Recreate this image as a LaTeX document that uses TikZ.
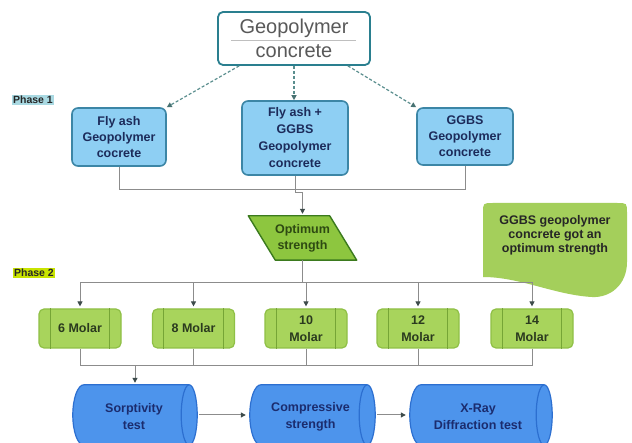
\documentclass[tikz,border=0pt]{standalone}
\usepackage{fontspec}
\setmainfont{Liberation Sans}
\usetikzlibrary{arrows.meta,calc,backgrounds}
\definecolor{teal1}{HTML}{2A7F8F}
\definecolor{bluefill}{HTML}{8ECFF3}
\definecolor{blueedge}{HTML}{3C86A6}
\definecolor{bluetext}{HTML}{1C2B5A}
\definecolor{dashc}{HTML}{5A8E8E}
\definecolor{lineg}{HTML}{8C8C8C}
\definecolor{arrowg}{HTML}{3D4B4B}
\definecolor{optfill}{HTML}{8DC63F}
\definecolor{optedge}{HTML}{3B7A1E}
\definecolor{opttext}{HTML}{2E4A12}
\definecolor{callfill}{HTML}{A4CF5B}
\definecolor{ph1}{HTML}{A9D9E2}
\definecolor{ph2}{HTML}{C9E400}
\definecolor{molfill}{HTML}{A8D45C}
\definecolor{moledge}{HTML}{8FC046}
\definecolor{molline}{HTML}{76A536}
\definecolor{moltext}{HTML}{2B3A1F}
\definecolor{cylfill}{HTML}{4D94EC}
\definecolor{cyledge}{HTML}{2C6FD0}
\definecolor{cyltext}{HTML}{1B2C6E}
\newcommand{\cylbody}[1]{%
  \path[draw=cyledge, fill=cylfill, line width=1.2pt]
    ($(#1.north west)+(11,0)$) -- ($(#1.north east)+(-8,0)$)
    .. controls ($(#1.north east)+(-3.58,0)$) and ($(#1.east)+(0,-16.57)$) .. (#1.east)
    .. controls ($(#1.east)+(0,16.57)$) and ($(#1.south east)+(-3.58,0)$) .. ($(#1.south east)+(-8,0)$)
    -- ($(#1.south west)+(11,0)$)
    .. controls ($(#1.south west)+(4.92,0)$) and ($(#1.west)+(0,16.57)$) .. (#1.west)
    .. controls ($(#1.west)+(0,-16.57)$) and ($(#1.north west)+(4.92,0)$) .. ($(#1.north west)+(11,0)$)
    -- cycle;
  \path[draw=cyledge, line width=1.2pt]
    ($(#1.north east)+(-8,0)$)
    .. controls ($(#1.north east)+(-12.42,0)$) and ($(#1.east)+(-16,-16.57)$) .. ($(#1.east)+(-16,0)$)
    .. controls ($(#1.east)+(-16,16.57)$) and ($(#1.south east)+(-12.42,0)$) .. ($(#1.south east)+(-8,0)$);
}
\begin{document}
\begin{tikzpicture}[x=1pt,y=-1pt,
  every node/.style={align=center, inner sep=0pt},
  topbox/.style={draw=teal1, line width=1.8pt, fill=white, rounded corners=5pt,
    minimum width=152pt, minimum height=53pt, text=black!65,
    font=\fontsize{20}{24}\selectfont},
  bluebox/.style={draw=blueedge, line width=1.6pt, fill=bluefill, rounded corners=6pt,
    text=bluetext, font=\bfseries\fontsize{12.5}{16}\selectfont},
  optnode/.style={minimum width=81pt, minimum height=44pt, text=opttext,
    font=\bfseries\fontsize{12.5}{16}\selectfont},
  molbox/.style={draw=moledge, fill=molfill, line width=1.2pt, rounded corners=5pt,
    minimum width=82pt, minimum height=39pt, text=moltext,
    font=\bfseries\fontsize{12.5}{17}\selectfont},
  cyl/.style={minimum height=60pt, text=cyltext,
    font=\bfseries\fontsize{12.5}{17}\selectfont},
  phase/.style={inner sep=1.5pt, text=black!85, font=\bfseries\fontsize{10.5}{12}\selectfont},
  dasharrow/.style={draw=dashc, line width=1.2pt, dash pattern=on 3pt off 2pt,
    -{Triangle[length=5pt,width=5pt,color=dashc!80!black]}},
  conn/.style={draw=lineg, line width=1pt},
  connarrow/.style={conn, -{Triangle[length=5pt,width=5pt,color=arrowg]}, shorten >=2pt}
]
\useasboundingbox (0,0) rectangle (632,443);
\begin{pgfonlayer}{background}
\fill[white] (0,0) rectangle (632,443);
\end{pgfonlayer}

% top
\node[topbox] (top) at (294,38.5) {Geopolymer\\concrete};
\draw[black!25, line width=0.6pt] ($(top.west)+(14,1.5)$) -- ($(top.east)+(-15,1.5)$);

\node[phase, fill=ph1] (p1) at (33,100) {Phase 1};

\node[bluebox, minimum width=94pt, minimum height=58pt] (fa) at (119,137) {Fly ash\\Geopolymer\\cocrete};
\node[bluebox, minimum width=106pt, minimum height=74pt, font=\bfseries\fontsize{12.5}{17}\selectfont] (mid) at (295,138) {Fly ash +\\GGBS\\Geopolymer\\concrete};
\node[bluebox, minimum width=96pt, minimum height=57pt] (gg) at (465,136.5) {GGBS\\Geopolymer\\concrete};

\draw[dasharrow] ($(top.south west)+(22,0)$) -- (fa.north east);
\draw[dasharrow] (top.south) -- (top.south |- mid.north);
\draw[dasharrow] ($(top.south east)+(-23,0)$) -- (gg.north west);

% optimum
\node[optnode] (opt) at (302.5,238) {Optimum\\strength};
\begin{pgfonlayer}{background}
\draw[draw=optedge, fill=optfill, line width=1.4pt, line join=round]
  ([xshift=-13.5pt]opt.north west) -- ([xshift=-13.5pt]opt.north east)
  -- ([xshift=13.5pt]opt.south east) -- ([xshift=13.5pt]opt.south west) -- cycle;
\end{pgfonlayer}

\coordinate (j1) at (295,190);
\draw[conn] (fa.south) |- (j1);
\draw[conn] (gg.south) |- (j1);
\draw[connarrow] (mid.south) -- ++(0,17) -| (opt.north);

% callout
\fill[callfill] (483,277) -- (483,213) .. controls (483,203) .. (493,203) -- (617,203)
  .. controls (627,203) .. (627,213) -- (627,262)
  .. controls (627,285) and (610,298) .. (592,297)
  .. controls (555,295) and (520,277) .. (483,277) -- cycle;
\node[text=black!85, font=\bfseries\fontsize{12.5}{14}\selectfont] (call) at (555,235)
  {GGBS geopolymer\\concrete got an\\optimum strength};

\node[phase, fill=ph2] (p2) at (34,273) {Phase 2};

% molar boxes
\node[molbox] (m6) at (80,328.5) {6 Molar};
\node[molbox] (m8) at (193.5,328.5) {8 Molar};
\node[molbox] (m10) at (306,328.5) {10\\Molar};
\node[molbox] (m12) at (418,328.5) {12\\Molar};
\node[molbox] (m14) at (532,328.5) {14\\Molar};
\foreach \m in {m6,m8,m10,m12,m14}{
  \draw[molline, line width=1pt] ([xshift=12pt]\m.north west) -- ([xshift=12pt]\m.south west);
  \draw[molline, line width=1pt] ([xshift=-12pt]\m.north east) -- ([xshift=-12pt]\m.south east);
}

\coordinate (j2) at (302.5,283);
\draw[conn] (opt.south) -- (j2);
\foreach \m in {m6,m8,m10,m12,m14}{
  \draw[connarrow] (j2) -| (\m.north);
}

% cylinders
\node[cyl, minimum width=124pt] (c1) at (135,415) {};
\node[cyl, minimum width=125pt] (c2) at (312.5,415) {};
\node[cyl, minimum width=142pt] (c3) at (481,415) {};
\cylbody{c1}
\cylbody{c2}
\cylbody{c3}
\node[cyl] (t1) at ($(c1)+(-1,2)$) {Sorptivity\\test};
\node[cyl] (t2) at ($(c2)+(-2,2)$) {Compressive\\strength};
\node[cyl] (t3) at ($(c3)+(-3,2)$) {X-Ray\\Diffraction test};

\coordinate (j3) at (135,366);
\foreach \m in {m6,m8,m10,m12,m14}{
  \draw[conn] (\m.south) |- (j3);
}
\draw[connarrow] (j3) -- (c1.north);
\draw[connarrow, shorten <=2pt, shorten >=4pt] (c1.east) -- (c2.west);
\draw[connarrow, shorten <=2pt, shorten >=4pt] (c2.east) -- (c3.west);
\end{tikzpicture}
\end{document}
